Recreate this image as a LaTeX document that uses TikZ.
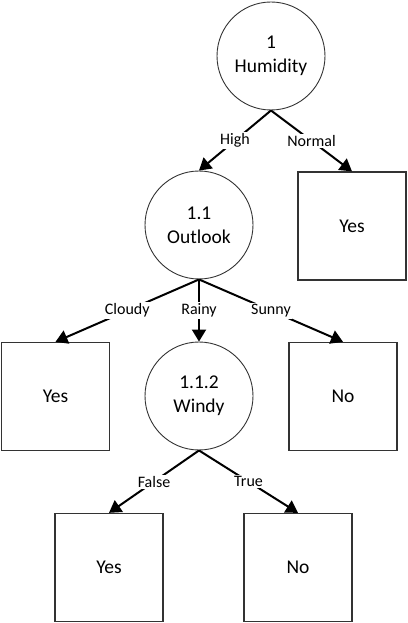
\documentclass[tikz,border=0pt]{standalone}
\usepackage{fontspec}
\setmainfont{Carlito}
\usetikzlibrary{arrows.meta}
\begin{document}
\begin{tikzpicture}[x=1pt,y=-1pt,
  decision/.style={circle,draw=black!80,line width=0.9pt,minimum size=108pt,inner sep=0pt,align=center,font=\fontsize{19.5}{24}\selectfont},
  leaf/.style={rectangle,draw=black!80,line width=1.3pt,minimum size=108pt,inner sep=0pt,align=center,font=\fontsize{19.5}{24}\selectfont},
  arr/.style={line width=2pt,-{Triangle[length=12pt,width=14pt]}},
  lbl/.style={fill=white,inner sep=1.5pt,font=\fontsize{16}{19}\selectfont}]
\useasboundingbox (0,0) rectangle (407,623);
\node[decision] (c1) at (271,56) {1\\Humidity};
\node[decision] (c11) at (199,225) {1.1\\Outlook};
\node[leaf] (y1) at (352,226) {Yes};
\node[leaf] (y2) at (55.5,396.5) {Yes};
\node[decision] (c112) at (199,396) {1.1.2\\Windy};
\node[leaf] (n1) at (343,396.5) {No};
\node[leaf] (y3) at (109,567.5) {Yes};
\node[leaf] (n2) at (298,567.5) {No};
\draw[arr] (c1.south) -- node[lbl]{High} (c11.north);
\draw[arr] (c1.south) -- node[lbl]{Normal} (y1.north);
\draw[arr] (c11.south) -- node[lbl]{Cloudy} (y2.north);
\draw[arr] (c11.south) -- node[lbl]{Rainy} (c112.north);
\draw[arr] (c11.south) -- node[lbl]{Sunny} (n1.north);
\draw[arr] (c112.south) -- node[lbl]{False} (y3.north);
\draw[arr] (c112.south) -- node[lbl]{True} (n2.north);
\end{tikzpicture}
\end{document}
